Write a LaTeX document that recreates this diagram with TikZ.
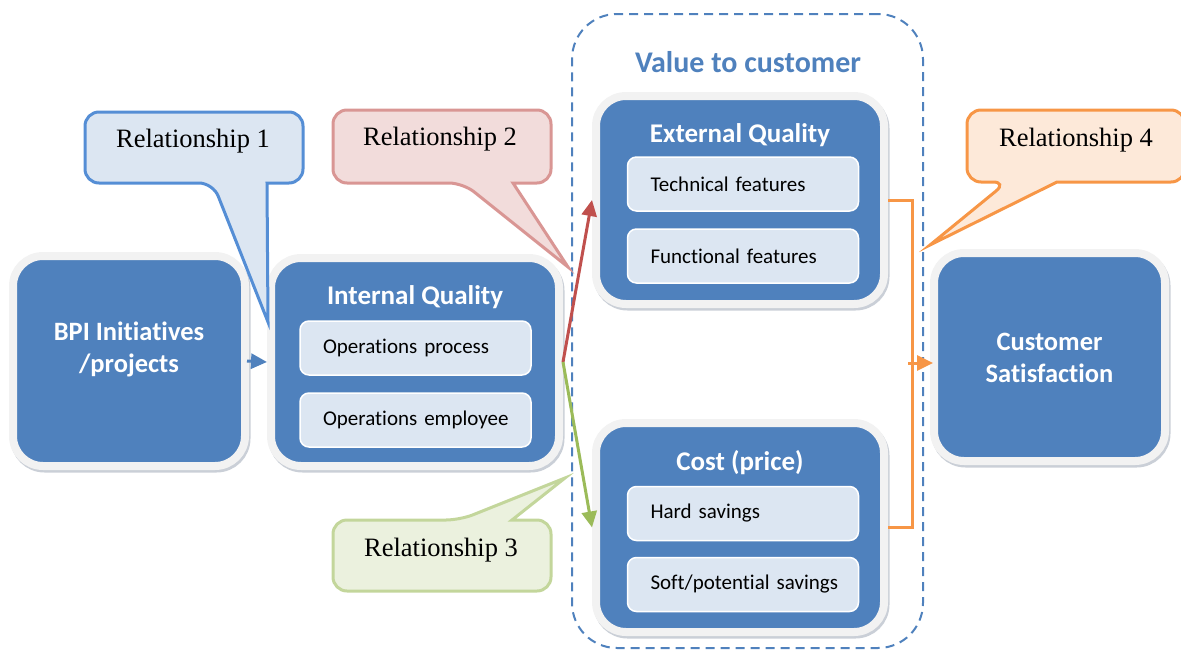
\documentclass[tikz,border=0pt]{standalone}
\usepackage{fontspec}
\setmainfont{Liberation Serif}
\newfontfamily\calibri[Ligatures=NoCommon]{Carlito}
\usetikzlibrary{arrows.meta,shadows}

\definecolor{boxblue}{HTML}{4F81BD}
\definecolor{lightblue}{HTML}{DCE6F2}
\definecolor{framegray}{HTML}{F2F2F2}
\definecolor{shadowgray}{RGB}{150,160,175}
\definecolor{relblue}{HTML}{558ED5}
\definecolor{relred}{HTML}{D99694}
\definecolor{relredfill}{HTML}{F2DCDB}
\definecolor{relgreen}{HTML}{C3D69B}
\definecolor{relgreenfill}{HTML}{EBF1DE}
\definecolor{relorange}{HTML}{F79646}
\definecolor{relorangefill}{HTML}{FDE9D9}
\definecolor{arrred}{HTML}{C0504D}
\definecolor{arrgreen}{HTML}{9BBB59}

\begin{document}
\begin{tikzpicture}[x=1pt, y=-1pt,
    bigbox/.style={rectangle, rounded corners=30pt, fill=boxblue, draw=framegray, line width=8pt,
        drop shadow={shadow xshift=1.5pt, shadow yshift=-2.5pt, fill=shadowgray, draw=shadowgray, line width=8pt}},
    boxtext/.style={text=white, font=\calibri\bfseries\fontsize{26.5}{32}\selectfont, align=center},
    itembox/.style={rectangle, rounded corners=9pt, fill=lightblue, draw=white, line width=1.5pt,
        inner xsep=12pt, text width=207pt, minimum height=54pt, align=left,
        font=\calibri\fontsize{21}{25}\selectfont, execute at begin node={\hspace*{11pt}}},
    boxtitle/.style={text=white, font=\calibri\bfseries\fontsize{27}{32}\selectfont},
    valuebox/.style={rectangle, rounded corners=45pt, draw=boxblue, line width=2pt,
        dash pattern=on 9pt off 6pt},
    reltext/.style={font=\fontsize{26.5}{31}\selectfont},
    relshape/.style={line width=3pt, rounded corners=14pt},
    conn/.style={line width=3pt, -{Triangle[length=16pt,width=15pt]}}]

  \useasboundingbox (0,0) rectangle (1181,651);

  % value to customer group
  \node[valuebox, minimum width=351pt, minimum height=634pt] (value) at (747.5,331) {};
  \node[text=boxblue, font=\calibri\bfseries\fontsize{30}{35}\selectfont] (valuetitle) at (748,62) {Value to customer};

  % main boxes
  \node[bigbox, minimum width=232pt, minimum height=210pt] (bpi) at (129,361) {};
  \node[bigbox, minimum width=288pt, minimum height=208pt] (iq) at (415,362) {};
  \node[bigbox, minimum width=288pt, minimum height=208pt] (ext) at (740,200) {};
  \node[bigbox, minimum width=288pt, minimum height=209pt] (cost) at (740,527.5) {};
  \node[bigbox, minimum width=231pt, minimum height=208pt] (cs) at (1049.5,357) {};

  \node[boxtext] (bpitext) at (129,349) {BPI Initiatives\\/projects};
  \node[boxtext] (cstext) at (1049.5,358) {Customer\\Satisfaction};

  % titles and items
  \node[boxtitle] (iqtitle) at (415,297) {Internal Quality};
  \node[itembox] (iqproc) at (415.5,348) {Operations process};
  \node[itembox] (iqemp) at (415.5,420) {Operations employee};

  \node[boxtitle] (exttitle) at (740,135) {External Quality};
  \node[itembox] (exttech) at (743,184) {Technical features};
  \node[itembox] (extfunc) at (743,256) {Functional features};

  \node[boxtitle] (costtitle) at (740,463) {Cost (price)};
  \node[itembox] (costhard) at (743,513.5) {Hard savings};
  \node[itembox] (costsoft) at (743,584.5) {Soft/potential savings};

  % connectors
  \draw[conn, boxblue] (bpi.east) ++(-2,0) -- (iq.west);
  \draw[conn, arrred] (iq.east) -- (ext.west);
  \draw[conn, arrgreen] (iq.east) -- (cost.west);
  \draw[relorange, line width=3pt] (ext.east) -- ++(24,0) |- (cost.east);
  \coordinate (jn) at (908,363);
  \draw[conn, relorange] (jn) -- ([xshift=3pt]cs.west |- jn);

  % callouts
  \draw[relshape, draw=relblue, fill=lightblue] (194,112) -- (85,112) -- (85,183) -- (213,183)
    [sharp corners] -- (268,322) -- (267,183) [rounded corners=14pt] -- (303,183) -- (303,112) -- cycle;
  \node[reltext] (rel1) at (193,141) {Relationship 1};

  \draw[relshape, draw=relred, fill=relredfill] (442,110) -- (333,110) -- (333,183) -- (463,183)
    [sharp corners] -- (568,267) -- (513,183) [rounded corners=14pt] -- (551,183) -- (551,110) -- cycle;
  \node[reltext] (rel2) at (440,139) {Relationship 2};

  \draw[relshape, draw=relgreen, fill=relgreenfill] (442,591) -- (333,591) -- (333,520) -- (460,520)
    [sharp corners] -- (565,478) -- (512,520) [rounded corners=14pt] -- (551,520) -- (551,591) -- cycle;
  \node[reltext] (rel3) at (441,550) {Relationship 3};

  \draw[relshape, draw=relorange, fill=relorangefill] (1076,110) -- (967,110) -- (967,182) -- (1007,182)
    [sharp corners] -- (930,245) -- (1057,182) [rounded corners=14pt] -- (1185,182) -- (1185,110) -- cycle;
  \node[reltext] (rel4) at (1076,140) {Relationship 4};
\end{tikzpicture}
\end{document}
